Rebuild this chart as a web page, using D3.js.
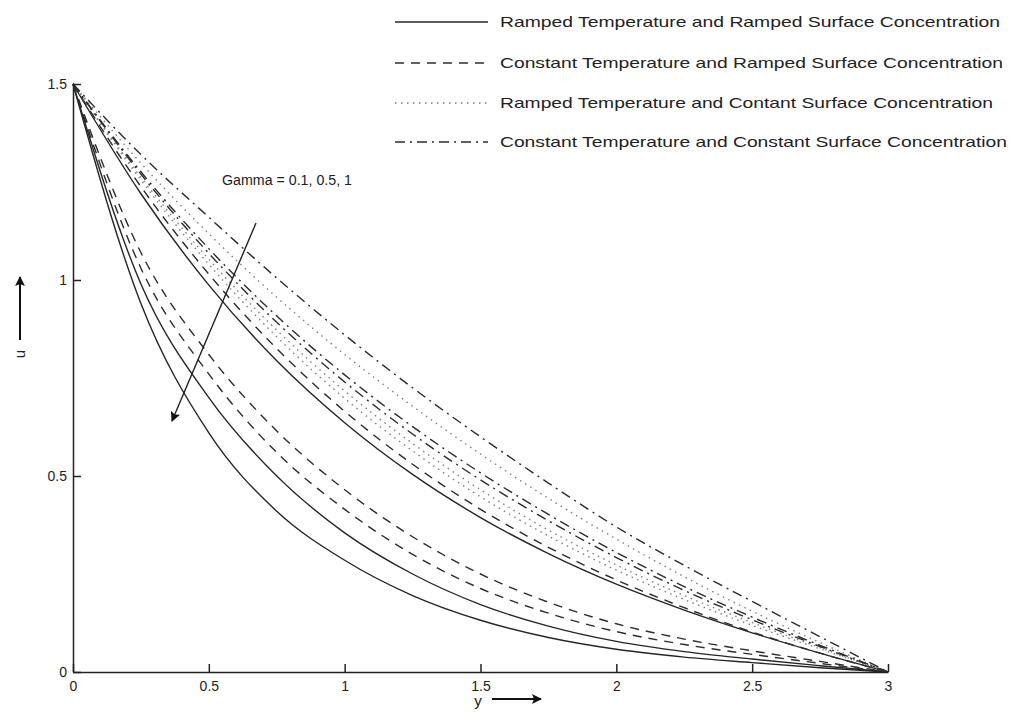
<!DOCTYPE html>
<meta charset="utf-8">
<style>
body { margin: 0; background: #fff; }
svg text { font-family: "Liberation Sans", Arial, sans-serif; fill: #222; }
</style>
<svg width="1010" height="720"></svg>
<script src="https://d3js.org/d3.v7.min.js"></script>
<script>

var svg = d3.select("svg"), width = +svg.attr("width"), height = +svg.attr("height");

var yPts = [0, 0.25, 0.5, 0.75, 1, 1.25, 1.5, 1.75, 2, 2.25, 2.5, 2.75, 3];

// ramped temperature and ramped surface concentration (solid)
var rrG01 = [1.5, 1.22, 0.987, 0.794, 0.636, 0.504, 0.394, 0.302, 0.224, 0.158, 0.10, 0.048, 0];
var rrG05 = [1.5, 0.99, 0.70, 0.50, 0.355, 0.25, 0.172, 0.117, 0.078, 0.052, 0.033, 0.016, 0];
var rrG1  = [1.5, 0.94, 0.61, 0.41, 0.285, 0.195, 0.132, 0.088, 0.058, 0.038, 0.024, 0.011, 0];
// constant temperature and ramped surface concentration (dashed)
var crG01 = [1.5, 1.238, 1.015, 0.825, 0.665, 0.53, 0.415, 0.318, 0.235, 0.164, 0.102, 0.048, 0];
var crG05 = [1.5, 1.07, 0.81, 0.615, 0.465, 0.345, 0.25, 0.178, 0.123, 0.084, 0.054, 0.027, 0];
var crG1  = [1.5, 1.03, 0.76, 0.56, 0.415, 0.30, 0.213, 0.15, 0.103, 0.07, 0.045, 0.022, 0];
// ramped temperature and constant surface concentration (dotted)
var rcG01 = [1.5, 1.298, 1.118, 0.956, 0.81, 0.678, 0.556, 0.443, 0.339, 0.243, 0.155, 0.075, 0];
var rcG05 = [1.5, 1.262, 1.053, 0.872, 0.717, 0.583, 0.465, 0.362, 0.273, 0.195, 0.126, 0.062, 0];
var rcG1  = [1.5, 1.255, 1.04, 0.855, 0.698, 0.564, 0.447, 0.347, 0.26, 0.185, 0.119, 0.059, 0];
// constant temperature and constant surface concentration (dash-dot)
var ccG01 = [1.5, 1.32, 1.16, 1.005, 0.86, 0.725, 0.60, 0.482, 0.37, 0.272, 0.18, 0.09, 0];
var ccG05 = [1.5, 1.276, 1.08, 0.908, 0.758, 0.626, 0.508, 0.402, 0.305, 0.218, 0.14, 0.068, 0];
var ccG1  = [1.5, 1.27, 1.068, 0.892, 0.74, 0.607, 0.49, 0.386, 0.292, 0.208, 0.133, 0.065, 0];

var xTicks = [0, 0.5, 1, 1.5, 2, 2.5, 3];
var uTicks = [0, 0.5, 1, 1.5];
var legendLabels = [
  "Ramped Temperature and Ramped Surface Concentration",
  "Constant Temperature and Ramped Surface Concentration",
  "Ramped Temperature and Contant Surface Concentration",
  "Constant Temperature and Constant Surface Concentration"
];
var gammaNote = "Gamma = 0.1, 0.5, 1";

var styles = [
  { dash: null, color: "#262626" },
  { dash: "9,7", color: "#2c2c2c" },
  { dash: "1.5,4.5", color: "#808080" },
  { dash: "10,5,2,5", color: "#2c2c2c" }
];

var groups = [
  [rrG01, rrG05, rrG1],
  [crG01, crG05, crG1],
  [rcG01, rcG05, rcG1],
  [ccG01, ccG05, ccG1]
];

var x = d3.scaleLinear().domain([0, 3]).range([73, 888]);
var y = d3.scaleLinear().domain([0, 1.5]).range([672, 84]);

var defs = svg.append("defs");
defs.append("marker").attr("id", "head")
    .attr("viewBox", "0 0 10 10").attr("refX", 9).attr("refY", 5)
    .attr("markerWidth", 10).attr("markerHeight", 10)
    .attr("markerUnits", "userSpaceOnUse").attr("orient", "auto")
  .append("path").attr("d", "M0,0L10,5L0,10L2,5Z").attr("fill", "#111");

var line = d3.line()
    .x(function(d, i) { return x(yPts[i]); })
    .y(function(d) { return y(d); })
    .curve(d3.curveMonotoneX);

var plot = svg.append("g").attr("class", "curves");
groups.forEach(function(g, k) {
  g.forEach(function(series) {
    plot.append("path")
        .datum(series)
        .attr("fill", "none")
        .attr("stroke", styles[k].color)
        .attr("stroke-width", 1.4)
        .attr("stroke-dasharray", styles[k].dash)
        .attr("d", line);
  });
});

// axes, ticks pointing inwards
var ax = svg.append("g").attr("transform", "translate(0,672)")
    .call(d3.axisBottom(x).tickValues(xTicks).tickSizeInner(-8).tickSizeOuter(0).tickPadding(9)
      .tickFormat(d3.format("")));
var ay = svg.append("g").attr("transform", "translate(73,0)")
    .call(d3.axisLeft(y).tickValues(uTicks).tickSizeInner(-8).tickSizeOuter(0).tickPadding(6)
      .tickFormat(d3.format("")));
[ax, ay].forEach(function(a) {
  a.selectAll("path, line").attr("stroke", "#222").attr("stroke-width", 1.5);
  a.selectAll("text").attr("font-size", 14).attr("fill", "#222")
    .style("font-family", "'Liberation Sans', Arial, sans-serif");
});

// axis titles with arrows
svg.append("text").attr("x", 478).attr("y", 706).attr("text-anchor", "middle")
    .attr("font-size", 15).text("y");
svg.append("line").attr("x1", 492).attr("y1", 699).attr("x2", 541).attr("y2", 699)
    .attr("stroke", "#111").attr("stroke-width", 2).attr("marker-end", "url(#head)");

svg.append("text").attr("transform", "translate(25,354) rotate(-90)").attr("text-anchor", "middle")
    .attr("font-size", 15).text("u");
svg.append("line").attr("x1", 20).attr("y1", 340).attr("x2", 20).attr("y2", 277)
    .attr("stroke", "#111").attr("stroke-width", 2).attr("marker-end", "url(#head)");

// gamma annotation
svg.append("text").attr("x", 222).attr("y", 185).attr("font-size", 14)
    .attr("textLength", 130).attr("lengthAdjust", "spacingAndGlyphs").text(gammaNote);
svg.append("line").attr("x1", 256).attr("y1", 223).attr("x2", 172).attr("y2", 421)
    .attr("stroke", "#222").attr("stroke-width", 1.4).attr("marker-end", "url(#head)");

// legend
var legend = svg.append("g").attr("class", "legend");
var rowY = [22, 63, 103, 142];
legendLabels.forEach(function(lab, i) {
  legend.append("line")
      .attr("x1", 395).attr("x2", 488).attr("y1", rowY[i]).attr("y2", rowY[i])
      .attr("stroke", styles[i].color).attr("stroke-width", 1.4)
      .attr("stroke-dasharray", styles[i].dash);
  legend.append("text")
      .attr("x", 500).attr("y", rowY[i] + 5).attr("font-size", 15)
      .attr("textLength", [500, 503, 493, 507][i]).attr("lengthAdjust", "spacingAndGlyphs")
      .text(lab);
});

</script>
